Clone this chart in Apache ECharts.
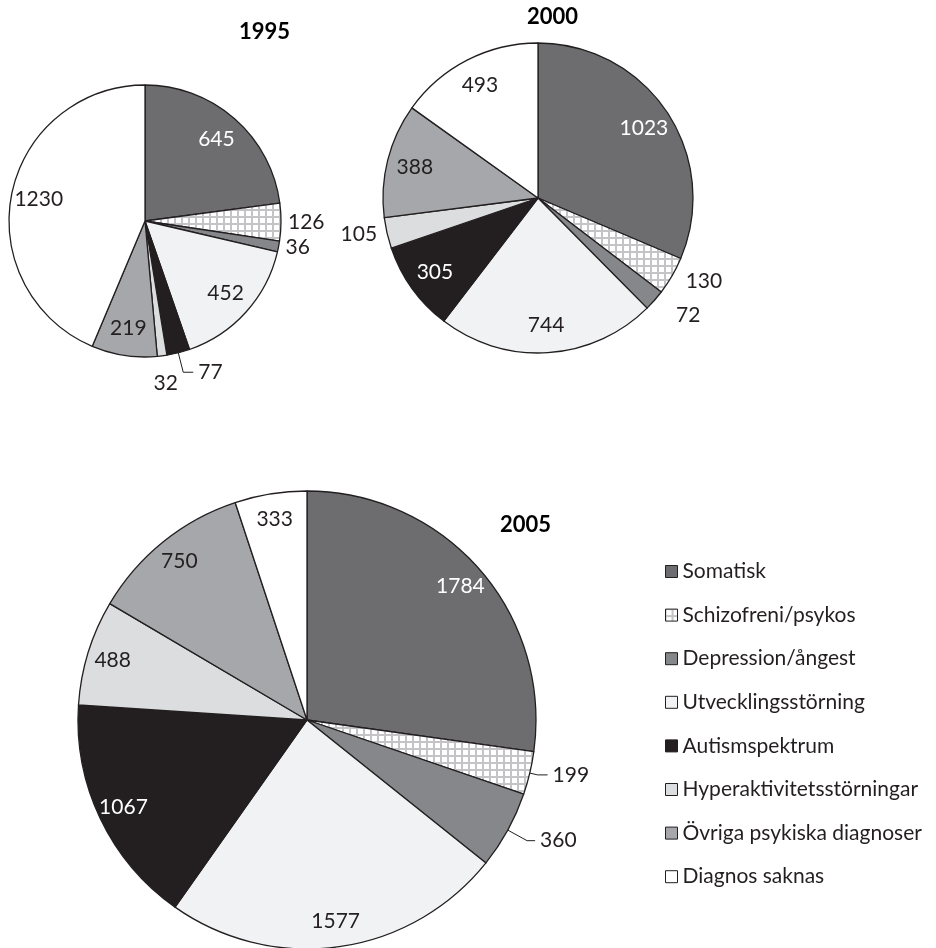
<!DOCTYPE html>
<html>
<head>
<meta charset="utf-8">
<script src="https://cdn.jsdelivr.net/npm/echarts@6/dist/echarts.min.js"></script>
<style>
html,body{margin:0;padding:0;background:#fff;}
#chart{width:936px;height:948px;}
</style>
</head>
<body>
<div id="chart"></div>
<script>
var categories = ['Somatisk','Schizofreni/psykos','Depression/ångest','Utvecklingsstörning','Autismspektrum','Hyperaktivitetsstörningar','Övriga psykiska diagnoser','Diagnos saknas'];
var years = ['1995','2000','2005'];
var values1995 = [645,126,36,452,77,32,219,1230];
var values2000 = [1023,130,72,744,305,105,388,493];
var values2005 = [1784,199,360,1577,1067,488,750,333];

/* rutat mönster för schizofreni/psykos */
var patt = document.createElement('canvas');
patt.width = 7; patt.height = 7;
var pctx = patt.getContext('2d');
pctx.fillStyle = '#c4c4c6';
pctx.fillRect(0,0,7,7);
pctx.fillStyle = '#ffffff';
pctx.fillRect(1,1,5,5);

var colors = ['#6d6d6f',{image: patt, repeat: 'repeat'},'#86878a','#f1f2f4','#231f20','#dcdddf','#a6a7aa','#ffffff'];
var labelColors = ['#ffffff','#231f20','#231f20','#231f20','#ffffff','#231f20','#231f20','#231f20'];
var font = 'Lato, "Open Sans", sans-serif';

/* layout per cirkel: små sektorer får etikett utanför [length, length2, visa linje] */
var pies = [
    {values: values1995, center: [145,221], r: 136, inner: 1.55, title: [239,21],
        outside: {1:[2,0,false], 2:[2,0,false], 4:[20,10,true], 5:[28,0,false]}},
    {values: values2000, center: [538,198], r: 155, inner: 1.6, title: [527,6],
        outside: {1:[10,0,false], 2:[22,0,false], 5:[5,0,false]}},
    {values: values2005, center: [307,720], r: 229, inner: 1.75, title: [500,514],
        outside: {1:[8,10,true], 2:[22,8,true]}}
];

var series = [];
var overlays = [];
var titles = [];

pies.forEach(function(p, k){
    var mainData = [], labelData = [];
    p.values.forEach(function(v, i){
        var o = p.outside[i];
        mainData.push({
            name: categories[i],
            value: v,
            itemStyle: {color: colors[i]},
            label: {show: !!o, position: 'outside'},
            labelLine: o ? {show: o[2], length: o[0], length2: o[1]} : {show: false}
        });
        labelData.push({
            name: categories[i],
            value: v,
            label: {show: !o, color: labelColors[i]}
        });
    });
    series.push({
        name: years[k],
        type: 'pie',
        center: p.center,
        radius: p.r,
        startAngle: 90,
        clockwise: true,
        avoidLabelOverlap: false,
        silent: true,
        animation: false,
        itemStyle: {borderColor: '#231f20', borderWidth: 1.3},
        label: {
            show: false,
            color: '#231f20',
            fontFamily: font,
            fontSize: 21,
            distanceToLabelLine: 5,
            formatter: '{c}'
        },
        labelLine: {lineStyle: {color: '#231f20', width: 1}},
        emphasis: {disabled: true},
        data: mainData
    });
    overlays.push({
        name: years[k] + ' etiketter',
        type: 'pie',
        center: p.center,
        radius: p.r * p.inner,
        startAngle: 90,
        clockwise: true,
        silent: true,
        animation: false,
        itemStyle: {color: 'rgba(0,0,0,0)', borderWidth: 0},
        label: {
            position: 'inside',
            fontFamily: font,
            fontSize: 21,
            formatter: '{c}'
        },
        labelLine: {show: false},
        emphasis: {disabled: true},
        data: labelData
    });
    titles.push({
        text: years[k],
        left: p.title[0],
        top: p.title[1],
        padding: 0,
        textStyle: {fontFamily: font, fontSize: 22, fontWeight: 'bold', color: '#000'}
    });
});

/* 32 i 1995 står lite till vänster under sin sektor */
series[0].labelLayout = function(params){
    if (params.dataIndex === 5) {
        return {dx: -17};
    }
};

var option = {
    backgroundColor: '#ffffff',
    animation: false,
    title: titles,
    legend: {
        orient: 'vertical',
        left: 665,
        top: 561,
        padding: 0,
        icon: 'rect',
        itemWidth: 12,
        itemHeight: 12,
        itemGap: 22.6,
        selectedMode: false,
        data: categories,
        itemStyle: {borderColor: '#231f20', borderWidth: 1},
        textStyle: {fontFamily: font, fontSize: 21, color: '#231f20'}
    },
    series: series.concat(overlays)
};

var myChart = echarts.init(document.getElementById('chart'));
myChart.setOption(option);
</script>
</body>
</html>
